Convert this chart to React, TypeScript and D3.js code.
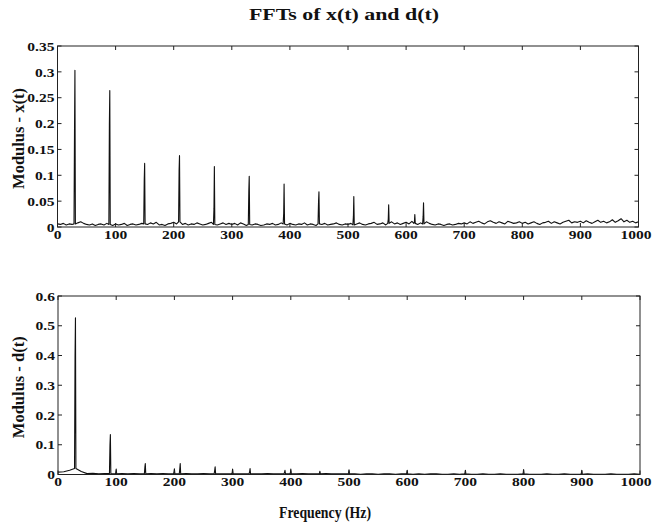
import React from "react";
import * as d3 from "d3";

// ---------- data ----------
// Noise floor of |X(f)|, thousandths, sampled every 5 Hz from 0 to 1000 Hz
const noiseStepX = 5;
const noiseX = [
  6, 5, 7, 4, 6, 5, 6, 8, 10, 7, 5, 4, 6, 3, 5, 6, 4, 7, 5, 3,
  6, 4, 5, 7, 3, 5, 6, 4, 5, 7, 6, 5, 8, 6, 9, 4, 5, 3, 6, 7,
  9, 6, 10, 5, 7, 4, 6, 5, 8, 6, 4, 5, 7, 9, 5, 4, 6, 8, 5, 7,
  5, 7, 4, 8, 6, 3, 5, 4, 6, 5, 3, 4, 6, 5, 7, 4, 5, 8, 6, 4,
  7, 5, 4, 6, 5, 8, 4, 6, 5, 3, 6, 5, 7, 4, 5, 6, 8, 5, 4, 6,
  5, 7, 4, 6, 8, 5, 4, 6, 7, 9, 5, 6, 8, 4, 7, 10, 6, 8, 5, 7,
  9, 6, 11, 7, 5, 8, 6, 10, 7, 5, 4, 6, 5, 3, 5, 6, 4, 5, 7, 6,
  8, 6, 10, 7, 9, 11, 8, 6, 10, 12, 9, 7, 10, 8, 6, 11, 9, 7, 8, 10,
  7, 9, 6, 8, 10, 7, 5, 8, 9, 11, 7, 10, 8, 6, 9, 11, 13, 8, 10, 9,
  11, 8, 12, 9, 7, 10, 13, 9, 11, 8, 10, 14, 9, 12, 16, 10, 13, 9, 11, 8,
  10,
];
// Spectral lines of x(t): frequency (Hz), peak bin, neighbouring bin
const peakFreqX = [30, 90, 150, 210, 270, 330, 390, 450, 510, 570, 615, 630];
const peakValX = [0.303, 0.264, 0.123, 0.138, 0.117, 0.098, 0.083, 0.068, 0.059, 0.043, 0.024, 0.047];
const shoulderX = [0.19, 0.2, 0.092, 0.11, 0.036, 0.07, 0.026, 0.05, 0.02, 0.015, 0.01, 0.02];

// Noise floor of |D(f)|, thousandths, sampled every 10 Hz from 0 to 1000 Hz
const noiseStepD = 10;
const noiseD = [
  8, 9, 14, 20, 10, 3, 4, 2, 3, 3,
  2, 3, 2, 3, 2, 2, 3, 2, 3, 2,
  3, 2, 3, 2, 2, 3, 2, 3, 2, 2,
  3, 2, 2, 3, 2, 2, 3, 2, 2, 3,
  2, 2, 3, 2, 2, 2, 3, 2, 2, 2,
  2, 2, 1, 2, 2, 1, 2, 2, 1, 2,
  2, 1, 2, 1, 2, 2, 1, 1, 2, 1,
  2, 1, 1, 2, 1, 1, 2, 1, 1, 1,
  2, 1, 1, 1, 2, 1, 1, 2, 1, 1,
  1, 2, 1, 1, 1, 2, 1, 1, 1, 2,
  1,
];
// Spectral lines of d(t)
const peakFreqD = [30, 90, 100, 150, 200, 210, 270, 300, 330, 390, 400, 450, 500, 600, 700, 800, 900];
const peakValD = [0.527, 0.134, 0.018, 0.037, 0.019, 0.037, 0.026, 0.018, 0.02, 0.014, 0.018, 0.011, 0.016, 0.014, 0.014, 0.017, 0.014];
const shoulderD = [0.4, 0.1, 0.006, 0.025, 0.008, 0.02, 0.015, 0.006, 0.01, 0.008, 0.006, 0.005, 0.005, 0.005, 0.005, 0.005, 0.005];

const xTicks = [0, 100, 200, 300, 400, 500, 600, 700, 800, 900, 1000];
const yTicksX = [0, 0.05, 0.1, 0.15, 0.2, 0.25, 0.3, 0.35];
const yTicksD = [0, 0.1, 0.2, 0.3, 0.4, 0.5, 0.6];

const title = "FFTs of x(t) and d(t)";
const xLabel = "Frequency (Hz)";

type Pt = [number, number];

// Merge the noise floor with the narrow spectral lines into one trace
function buildTrace(
  noise: number[],
  step: number,
  freqs: number[],
  peaks: number[],
  shoulders: number[]
): Pt[] {
  const floorAt = (f: number) => noise[Math.min(noise.length - 1, Math.round(f / step))] / 1000;
  const pts: Pt[] = [];
  noise.forEach((v, i) => {
    const f = i * step;
    if (freqs.every((p) => Math.abs(p - f) > 2)) pts.push([f, v / 1000]);
  });
  freqs.forEach((f, i) => {
    const base = floorAt(f);
    pts.push([f - 1.6, base]);
    pts.push([f - 0.7, shoulders[i]]);
    pts.push([f, peaks[i]]);
    pts.push([f + 0.8, base]);
  });
  return pts.sort((a, b) => a[0] - b[0]);
}

const FONT = "'Liberation Serif', 'Times New Roman', Times, serif";
const STRETCH = 1.15;

type PanelProps = {
  top: number;
  bottom: number;
  left: number;
  right: number;
  yMax: number;
  yTicks: number[];
  label: string;
  data: Pt[];
};

function Panel({ top, bottom, left, right, yMax, yTicks, label, data }: PanelProps) {
  const x = d3.scaleLinear().domain([0, 1000]).range([left, right]);
  const y = d3.scaleLinear().domain([0, yMax]).range([bottom, top]);
  const line = d3
    .line<Pt>()
    .x((d) => x(d[0]))
    .y((d) => y(d[1]));
  const tick = 4;
  const fmt = (v: number) => String(+v.toFixed(2));
  return (
    <g>
      <path d={line(data) ?? ""} fill="none" stroke="#111" strokeWidth={1.1} strokeLinejoin="round" />
      <rect x={left} y={top} width={right - left} height={bottom - top} fill="none" stroke="#222" strokeWidth={1} />
      {xTicks.map((t, i) => {
        const last = i === xTicks.length - 1;
        const tx = last ? 651.5 : x(t);
        return (
          <g key={"x" + t}>
            <line x1={x(t)} x2={x(t)} y1={bottom} y2={bottom - tick} stroke="#222" />
            <line x1={x(t)} x2={x(t)} y1={top} y2={top + tick} stroke="#222" />
            <text
              transform={`translate(${tx},${bottom + 11.5}) scale(${STRETCH},1)`}
              textAnchor={last ? "end" : "middle"}
              fontFamily={FONT}
              fontWeight="bold"
              fontSize={13.5}
              fill="#111"
            >
              {t}
            </text>
          </g>
        );
      })}
      {yTicks.map((t) => (
        <g key={"y" + t}>
          <line x1={left} x2={left + tick} y1={y(t)} y2={y(t)} stroke="#222" />
          <line x1={right} x2={right - tick} y1={y(t)} y2={y(t)} stroke="#222" />
          <text
            transform={`translate(${left - 3},${y(t)}) scale(${STRETCH},1)`}
            textAnchor="end"
            dy="0.35em"
            fontFamily={FONT}
            fontWeight="bold"
            fontSize={13.5}
            fill="#111"
          >
            {fmt(t)}
          </text>
        </g>
      ))}
      <text
        transform={`translate(24,${(top + bottom) / 2 + 2}) rotate(-90)`}
        textAnchor="middle"
        fontFamily={FONT}
        fontWeight="bold"
        fontSize={16.5}
        fill="#111"
      >
        {label}
      </text>
    </g>
  );
}

export default function App() {
  const traceX = buildTrace(noiseX, noiseStepX, peakFreqX, peakValX, shoulderX);
  const traceD = buildTrace(noiseD, noiseStepD, peakFreqD, peakValD, shoulderD);
  return (
    <svg
      width={652}
      height={527}
      viewBox="0 0 652 527"
      style={{ position: "absolute", left: 0, top: 0, background: "#fff" }}
    >
      <rect width={652} height={527} fill="#fff" />
      <text
        x={344}
        y={20}
        textAnchor="middle"
        fontFamily={FONT}
        fontWeight="bold"
        fontSize={16}
        textLength={190}
        lengthAdjust="spacingAndGlyphs"
        fill="#111"
      >
        {title}
      </text>
      <Panel
        top={46}
        bottom={227}
        left={57.5}
        right={638.5}
        yMax={0.35}
        yTicks={yTicksX}
        label="Modulus - x(t)"
        data={traceX}
      />
      <Panel
        top={296}
        bottom={474.5}
        left={58}
        right={640}
        yMax={0.6}
        yTicks={yTicksD}
        label="Modulus - d(t)"
        data={traceD}
      />
      <text
        x={325}
        y={518}
        textAnchor="middle"
        fontFamily={FONT}
        fontWeight="bold"
        fontSize={16}
        textLength={92}
        lengthAdjust="spacingAndGlyphs"
        fill="#111"
      >
        {xLabel}
      </text>
    </svg>
  );
}
